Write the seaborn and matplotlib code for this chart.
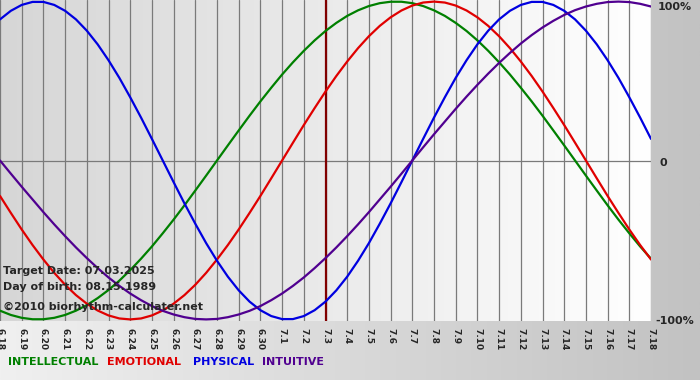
import numpy as np
import pandas as pd
import matplotlib
matplotlib.use("Agg")
import matplotlib.pyplot as plt
import seaborn as sns

days = ["6.18", "6.19", "6.20", "6.21", "6.22", "6.23", "6.24", "6.25", "6.26", "6.27",
        "6.28", "6.29", "6.30", "7.1", "7.2", "7.3", "7.4", "7.5", "7.6", "7.7",
        "7.8", "7.9", "7.10", "7.11", "7.12", "7.13", "7.14", "7.15", "7.16", "7.17", "7.18"]

# values read every half day (6.18, 6.18 noon, 6.19, ... 7.18)
physical = [0.888, 0.942, 0.979, 0.998, 0.998, 0.979, 0.942, 0.888, 0.817, 0.731, 0.631, 0.520,
            0.398, 0.270, 0.136, 0.000,
            -0.136, -0.270, -0.398, -0.520, -0.631, -0.731, -0.817, -0.888, -0.942, -0.979, -0.998,
            -0.998, -0.979, -0.942, -0.888, -0.817, -0.731, -0.631, -0.520, -0.398, -0.270, -0.136,
            0.000,
            0.136, 0.270, 0.398, 0.520, 0.631, 0.731, 0.817, 0.888, 0.942, 0.979, 0.998,
            0.998, 0.979, 0.942, 0.888, 0.817, 0.731, 0.631, 0.520, 0.398, 0.270, 0.136]
emotional = [-0.223, -0.330, -0.434, -0.532, -0.623, -0.707, -0.782, -0.847, -0.901, -0.944, -0.975,
             -0.994, -1.000, -0.994, -0.975, -0.944, -0.901, -0.847, -0.782, -0.707, -0.623, -0.532,
             -0.434, -0.330, -0.223, -0.112, 0.000,
             0.112, 0.223, 0.330, 0.434, 0.532, 0.623, 0.707, 0.782, 0.847, 0.901, 0.944, 0.975,
             0.994, 1.000, 0.994, 0.975, 0.944, 0.901, 0.847, 0.782, 0.707, 0.623, 0.532, 0.434,
             0.330, 0.223, 0.112, 0.000,
             -0.112, -0.223, -0.330, -0.434, -0.532, -0.623]
intellectual = [-0.945, -0.972, -0.990, -0.999, -0.999, -0.990, -0.972, -0.945, -0.910, -0.866,
                -0.815, -0.756, -0.690, -0.618, -0.541, -0.458, -0.372, -0.282, -0.189, -0.095,
                0.000,
                0.095, 0.189, 0.282, 0.372, 0.458, 0.541, 0.618, 0.690, 0.756, 0.815, 0.866,
                0.910, 0.945, 0.972, 0.990, 0.999, 0.999, 0.990, 0.972, 0.945, 0.910, 0.866,
                0.815, 0.756, 0.690, 0.618, 0.541, 0.458, 0.372, 0.282, 0.189, 0.095, 0.000,
                -0.095, -0.189, -0.282, -0.372, -0.458, -0.541, -0.618]
intuitive = [0.000, -0.083, -0.165, -0.245, -0.325, -0.402, -0.476, -0.547, -0.614, -0.677,
             -0.736, -0.789, -0.837, -0.879, -0.916, -0.946, -0.969, -0.986, -0.997, -1.000,
             -0.997, -0.986, -0.969, -0.946, -0.916, -0.879, -0.837, -0.789, -0.736, -0.677,
             -0.614, -0.547, -0.476, -0.402, -0.325, -0.245, -0.165, -0.083,
             0.000, 0.083, 0.165, 0.245, 0.325, 0.402, 0.476, 0.547, 0.614, 0.677, 0.736,
             0.789, 0.837, 0.879, 0.916, 0.946, 0.969, 0.986, 0.997, 1.000, 0.997, 0.986, 0.969]

series_names = ["INTELLECTUAL", "EMOTIONAL", "PHYSICAL", "INTUITIVE"]
series_colors = ["#008000", "#e00000", "#0000e0", "#500090"]
target_day = "7.3"
y_labels = ["100%", "0", "-100%"]
info_lines = ["Target Date: 07.03.2025", "Day of birth: 08.15.1989", "\u00a92010 biorhythm-calculater.net"]

rows = []
for name, vals in zip(series_names, [intellectual, emotional, physical, intuitive]):
    for i, v in enumerate(vals):
        rows.append({"day": i * 0.5, "value": v, "series": name})
df = pd.DataFrame(rows)

sns.set_style("white")
plt.rcParams["font.family"] = ["DejaVu Sans"]

W, H = 700, 380
fig = plt.figure(figsize=(7, 3.8), dpi=100)
fig.patch.set_facecolor("#c4c4c4")

bg = fig.add_axes([0, 0, 1, 1], zorder=-10)
bg.imshow(np.linspace(0, 1, 256)[None, :],
          cmap=matplotlib.colors.LinearSegmentedColormap.from_list("b", ["#f0f0f0", "#c2c2c2"]),
          aspect="auto", extent=[0, 1, 0, 1])
bg.axis("off")

px_left, px_right, px_top, px_bottom = 0, 651, 0, 321
ax = fig.add_axes([px_left / W, 1 - px_bottom / H, (px_right - px_left) / W, (px_bottom - px_top) / H])
n = len(days) - 1

ax.imshow(np.linspace(0, 1, 256)[None, :],
          cmap=matplotlib.colors.LinearSegmentedColormap.from_list("p", ["#d6d6d6", "#ffffff"]),
          aspect="auto", extent=[0, n, -1.01, 1.01], zorder=0)

for i in range(len(days)):
    ax.axvline(i, color="#7a7a7a", lw=0.9, zorder=1)
ax.axhline(0, color="#7a7a7a", lw=0.9, zorder=1)
ax.axvline(days.index(target_day), color="#800000", lw=1.6, zorder=1)

sns.lineplot(data=df, x="day", y="value", hue="series", hue_order=series_names,
             palette=series_colors, ax=ax, legend=False, lw=1.6, zorder=3)
ax.set_xlim(0, n)
ax.set_ylim(-1.01, 1.01)

ax.set_xticks(range(len(days)))
ax.set_xticklabels(days, rotation=-90, fontsize=6.5, fontweight="bold")
ax.tick_params(axis="x", length=4, color="#7a7a7a", width=0.9, pad=1)
ax.set_yticks([])
ax.set_xlabel("")
ax.set_ylabel("")
for s in ax.spines.values():
    s.set_visible(False)

fig.text(658 / W, 1 - 7 / H, y_labels[0], fontsize=8, fontweight="bold", va="center", ha="left")
fig.text(660 / W, 1 - 163 / H, y_labels[1], fontsize=8, fontweight="bold", va="center", ha="left")
fig.text(655 / W, 1 - 321 / H, y_labels[2], fontsize=8, fontweight="bold", va="center", ha="left")

for txt, yp in zip(info_lines, [271, 287, 307]):
    fig.text(3 / W, 1 - yp / H, txt, fontsize=8, fontweight="bold", va="center", ha="left", zorder=5)

for name, col, xp in zip(series_names, series_colors, [8, 107, 193, 262]):
    fig.text(xp / W, 1 - 362 / H, name, fontsize=8, fontweight="bold", color=col, va="center", ha="left")

fig.savefig("out.png", dpi=100)
